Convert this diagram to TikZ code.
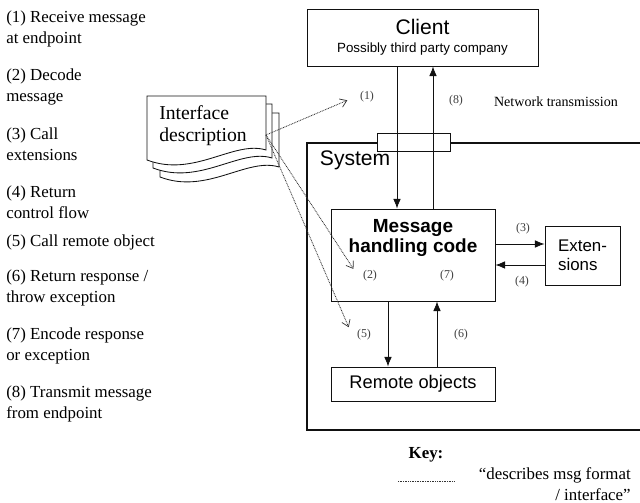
\documentclass[tikz,border=0pt]{standalone}
\usepackage{fontspec}
\setmainfont{Liberation Serif}
\setsansfont{Liberation Sans}
\usepackage{xcolor}
\usetikzlibrary{arrows.meta,calc,positioning}
\definecolor{ink}{HTML}{111111}
\definecolor{labelgray}{HTML}{404040}
\definecolor{dotgray}{HTML}{333333}
\tikzset{
  BlockBox/.style={
    draw=ink, line width=0.6pt,
    fill=white, inner sep=0pt
  },
  FlowArrow/.style={
    draw=ink, line width=0.6pt,
    -{Latex[length=2.4mm,width=1.9mm]}
  },
  DescArrow/.style={
    draw=dotgray, line width=0.6pt,
    dash pattern=on 0.6pt off 0.6pt,
    -{Straight Barb[length=1.6mm,width=2.2mm,line width=0.5pt]},
    shorten >=6pt
  },
  StepNum/.style={
    text=labelgray, font=\fontsize{8.5}{10}\selectfont
  },
  StepText/.style={
    anchor=west, align=left, inner sep=0pt,
    font=\fontsize{12}{14.9}\selectfont
  },
  DocPage/.style={
    draw=ink, line width=0.6pt, fill=white
  }
}

\begin{document}
\begin{tikzpicture}[x=0.025cm, y=-0.025cm, line join=miter]
  \useasboundingbox (0,0) rectangle (640,503);

  % numbered steps on the left
  \foreach \ypos/\txt [count=\i] in {
      28.5/{(1) Receive message\\at endpoint},
      86.5/{(2) Decode\\message},
      144.5/{(3) Call\\extensions},
      202.5/{(4) Return\\control flow},
      242/{(5) Call remote object},
      288/{(6) Return response /\\throw exception},
      345.5/{(7) Encode response\\or exception},
      403.5/{(8) Transmit message\\from endpoint}}
    \node[StepText] (step\i) at (6,\ypos) {\txt};

  % system boundary (runs off the right edge)
  \draw[draw=ink, line width=1.5pt] (660,143) -- (307,143) -- (307,430) -- (660,430);
  \node[anchor=west, font=\sffamily\fontsize{15}{18}\selectfont] (syslbl) at (315,160) {System};

  % blocks
  \node[BlockBox, minimum width=5.775cm, minimum height=1.425cm, align=center,
        font=\sffamily\fontsize{15}{17}\selectfont] (client) at (422.5,37.5)
        {Client\\[-4pt]{\fontsize{9.5}{11}\selectfont Possibly third party company}};
  \node[BlockBox, minimum width=1.825cm, minimum height=0.45cm] (netport) at (413.5,142) {};
  \node[BlockBox, minimum width=4.1cm, minimum height=2.3cm] (mhc) at (413,255) {};
  \node[align=center, font=\sffamily\bfseries\fontsize{13.5}{14.2}\selectfont] (mhclbl) at (413,238)
        {Message\\handling code};
  \node[BlockBox, minimum width=1.875cm, minimum height=1.475cm, align=left,
        font=\sffamily\fontsize{12}{13.5}\selectfont] (ext) at (582.5,255.5) {Exten-\\sions};
  \node[BlockBox, minimum width=4.1cm, minimum height=0.85cm,
        font=\sffamily\fontsize{13}{15}\selectfont] (remote) at (413,384) {Remote objects};

  \node[font=\fontsize{10}{12}\selectfont] (nettxt) at (556,102) {Network transmission};

  % step numbers at the arrows
  \node[StepNum] (n1) at (367,97) {(1)};
  \node[StepNum] (n2) at (370,276) {(2)};
  \node[StepNum] (n3) at (523,229) {(3)};
  \node[StepNum] (n4) at (522,282) {(4)};
  \node[StepNum] (n5) at (364,335) {(5)};
  \node[StepNum] (n6) at (461,335) {(6)};
  \node[StepNum] (n7) at (447,276) {(7)};
  \node[StepNum] (n8) at (456,101) {(8)};

  % control flow
  \coordinate (downA) at (397,0);
  \coordinate (upA) at (433,0);
  \coordinate (downB) at (388,0);
  \coordinate (upB) at (437,0);
  \coordinate (callExt) at (0,244);
  \coordinate (backExt) at (0,265);
  \draw[FlowArrow] (client.south -| downA) -- (mhc.north -| downA);
  \draw[FlowArrow] (mhc.north -| upA) -- (client.south -| upA);
  \draw[FlowArrow] (mhc.east |- callExt) -- (ext.west |- callExt);
  \draw[FlowArrow] (ext.west |- backExt) -- (mhc.east |- backExt);
  \draw[FlowArrow] (mhc.south -| downB) -- (remote.north -| downB);
  \draw[FlowArrow] (remote.north -| upB) -- (mhc.south -| upB);

  % interface description: stack of pages
  \foreach \dx/\dy in {13/17, 6/8, 0/0}
    \draw[DocPage, shift={(\dx,\dy)}] (147,96) -- (266,96) -- (266,150)
      .. controls (234,140) and (194,178) .. (147,160) -- cycle;
  \node[align=left, font=\fontsize{14}{15.6}\selectfont] (iface) at (203,126) {Interface\\description};
  \coordinate (docout) at (266,135);

  \draw[DescArrow] (docout) -- (n1.west);
  \draw[DescArrow] (docout) -- (n2.west);
  \draw[DescArrow] (docout) -- (n5.west);

  % key
  \node[font=\bfseries\fontsize{12}{14}\selectfont] (keylbl) at (426,455) {Key:};
  \coordinate (keyA) at (398,481);
  \coordinate (keyB) at (455,481);
  \draw[draw=dotgray, line width=0.6pt, dash pattern=on 0.6pt off 0.6pt] (keyA) -- (keyB);
  \node[anchor=east, align=right, inner sep=0pt, font=\fontsize{12}{14.9}\selectfont] (keytxt)
        at (631,484.5) {“describes msg format\\/ interface”};
\end{tikzpicture}
\end{document}
